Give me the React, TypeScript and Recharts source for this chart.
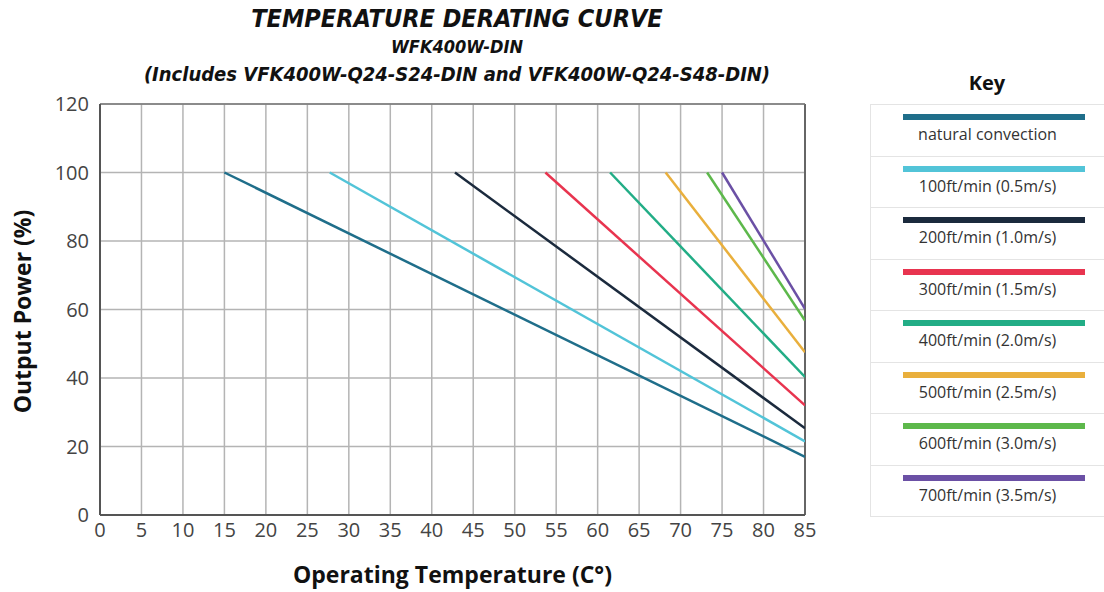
import { LineChart, Line, XAxis, YAxis, CartesianGrid, ReferenceLine } from "recharts";

const xTicks = [0, 5, 10, 15, 20, 25, 30, 35, 40, 45, 50, 55, 60, 65, 70, 75, 80, 85];
const yTicks = [0, 20, 40, 60, 80, 100, 120];

const natural = [{ x: 15, y: 100 }, { x: 85, y: 17 }];
const ft100 = [{ x: 27.7, y: 100 }, { x: 85, y: 21.5 }];
const ft200 = [{ x: 42.8, y: 100 }, { x: 85, y: 25.3 }];
const ft300 = [{ x: 53.7, y: 100 }, { x: 85, y: 32 }];
const ft400 = [{ x: 61.5, y: 100 }, { x: 85, y: 40.3 }];
const ft500 = [{ x: 68.2, y: 100 }, { x: 85, y: 47.5 }];
const ft600 = [{ x: 73.2, y: 100 }, { x: 85, y: 56.8 }];
const ft700 = [{ x: 75, y: 100 }, { x: 85, y: 60.2 }];

const seriesNames = [
  "natural convection",
  "100ft/min (0.5m/s)",
  "200ft/min (1.0m/s)",
  "300ft/min (1.5m/s)",
  "400ft/min (2.0m/s)",
  "500ft/min (2.5m/s)",
  "600ft/min (3.0m/s)",
  "700ft/min (3.5m/s)",
];
const seriesData = [natural, ft100, ft200, ft300, ft400, ft500, ft600, ft700];
const colors = ["#1f6e8a", "#52c4d8", "#1b2a3d", "#e8344f", "#22ad86", "#e9af3c", "#5db84b", "#6b50a5"];

const titleFont = "'Liberation Sans Narrow', 'DejaVu Sans Condensed', sans-serif";
const bodyFont = "'Open Sans', 'Noto Sans', sans-serif";

function Legend() {
  return (
    <div style={{ position: "absolute", left: 870, top: 62, width: 234, fontFamily: bodyFont }}>
      <div style={{ textAlign: "center", fontWeight: 700, fontSize: 20, color: "#111", height: 42, lineHeight: "42px" }}>Key</div>
      <div style={{ border: "1px solid #e4e4e4", borderRight: "none" }}>
        {seriesNames.map((name, i) => (
          <div
            key={name}
            style={{
              height: 50.5,
              borderTop: i === 0 ? "none" : "1px solid #e4e4e4",
              position: "relative",
            }}
          >
            <div style={{ position: "absolute", left: 32, top: 9, width: 182, height: 6, background: colors[i] }} />
            <div style={{ position: "absolute", left: 0, right: 0, top: 18, textAlign: "center", fontSize: 16, color: "#333" }}>
              {name}
            </div>
          </div>
        ))}
      </div>
    </div>
  );
}

export default function App() {
  return (
    <div style={{ position: "absolute", left: 0, top: 0, width: 1104, height: 592, background: "#fff" }}>
      <div style={{ position: "absolute", left: 0, width: 914, top: 3, textAlign: "center", fontFamily: titleFont, fontStyle: "italic", fontWeight: 700, color: "#111" }}>
        <div style={{ fontSize: 25, lineHeight: "31px" }}>TEMPERATURE DERATING CURVE</div>
        <div style={{ fontSize: 18, lineHeight: "26px" }}>WFK400W-DIN</div>
        <div style={{ fontSize: 20, lineHeight: "28px" }}>(Includes VFK400W-Q24-S24-DIN and VFK400W-Q24-S48-DIN)</div>
      </div>
      <div style={{ position: "absolute", left: 0, top: 0 }}>
        <LineChart width={860} height={592} margin={{ top: 104, right: 55, bottom: 0, left: 10 }}>
          <CartesianGrid stroke="#b4b4b4" strokeWidth={1.5} />
          <XAxis
            type="number"
            dataKey="x"
            domain={[0, 85]}
            ticks={xTicks}
            interval={0}
            allowDataOverflow
            tickLine={false}
            axisLine={{ stroke: "#555", strokeWidth: 2 }}
            tick={{ fontSize: 20, fill: "#444", fontFamily: bodyFont }}
            tickMargin={2}
            height={77}
            label={{
              value: "Operating Temperature (C°)",
              position: "insideBottom",
              offset: 9,
              style: { fontSize: 23, fontWeight: 700, fill: "#111", fontFamily: bodyFont },
            }}
          />
          <YAxis
            type="number"
            domain={[0, 120]}
            ticks={yTicks}
            interval={0}
            tickLine={false}
            axisLine={{ stroke: "#555", strokeWidth: 2 }}
            tick={{ fontSize: 20, fill: "#444", fontFamily: bodyFont }}
            tickMargin={5}
            width={90}
            label={{
              content: ({ viewBox }: any) => {
                const cx = viewBox.x + 12;
                const cy = viewBox.y + viewBox.height / 2 + 2;
                return (
                  <text
                    x={cx}
                    y={cy}
                    transform={`rotate(-90 ${cx} ${cy})`}
                    textAnchor="middle"
                    dominantBaseline="central"
                    style={{ fontSize: 23, fontWeight: 700, fill: "#111", fontFamily: bodyFont }}
                  >
                    Output Power (%)
                  </text>
                );
              },
            }}
          />
          <ReferenceLine x={85} stroke="#666" strokeWidth={2} />
          <ReferenceLine y={120} stroke="#777" strokeWidth={1.5} />
          {seriesData.map((d, i) => (
            <Line
              key={seriesNames[i]}
              data={d}
              dataKey="y"
              name={seriesNames[i]}
              type="linear"
              stroke={colors[i]}
              strokeWidth={2.5}
              dot={false}
              activeDot={false}
              isAnimationActive={false}
            />
          ))}
        </LineChart>
      </div>
      <Legend />
    </div>
  );
}
